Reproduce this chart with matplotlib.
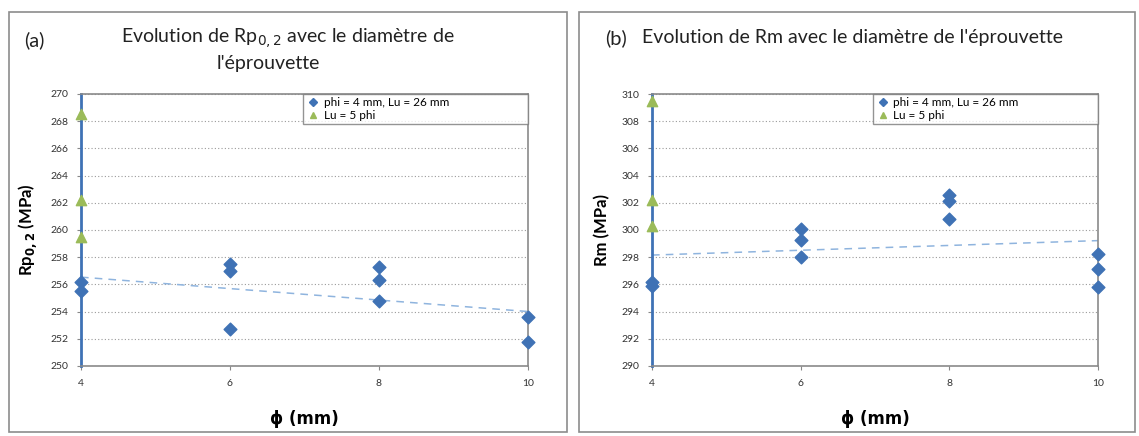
import numpy as np
import matplotlib
matplotlib.use("Agg")
import matplotlib.pyplot as plt
from matplotlib.patches import Rectangle
from matplotlib.lines import Line2D

plt.rcParams['font.family'] = ['Lato', 'DejaVu Sans']

# Panel (a): Rp0.2
rp_x_blue = [4, 4, 6, 6, 6, 8, 8, 8, 10, 10]
rp_y_blue = [256.2, 255.5, 257.5, 257.0, 252.7, 257.3, 256.3, 254.8, 253.6, 251.8]
rp_x_green = [4, 4, 4]
rp_y_green = [268.5, 262.2, 259.5]

# Panel (b): Rm
rm_x_blue = [4, 4, 6, 6, 6, 8, 8, 8, 10, 10, 10]
rm_y_blue = [296.2, 295.9, 300.1, 299.3, 298.0, 302.6, 302.1, 300.8, 298.2, 297.1, 295.8]
rm_x_green = [4, 4, 4]
rm_y_green = [309.5, 302.2, 300.3]

x_ticks = [4, 6, 8, 10]
legend_labels = ["phi = 4 mm, Lu = 26 mm", "Lu = 5 phi"]

BLUE = '#3f72b5'
GREEN = '#9bbb59'
TREND = '#8fb4de'

W, H = 1139, 436
fig = plt.figure(figsize=(W / 100, H / 100), dpi=100)

# panel frames
for x0, x1 in [(9, 567), (579, 1135)]:
    fig.patches.append(Rectangle((x0 / W, 1 - 432 / H), (x1 - x0) / W, (432 - 12) / H,
                                 transform=fig.transFigure, fill=False,
                                 edgecolor='#8c8c8c', linewidth=1.2))


def setup(ax, xb, yb, xg, yg, ylim, ylabel, leg_box):
    ax.set_xlim(4, 10)
    ax.set_ylim(*ylim)
    ax.set_xticks(x_ticks)
    ax.set_yticks(np.arange(ylim[0], ylim[1] + 1, 2))
    ax.tick_params(labelsize=7.5, length=3, color='#888888', labelcolor='#333333', pad=6)
    ax.yaxis.grid(True, color='#9a9a9a', linestyle=(0, (1, 2)), linewidth=0.8)
    ax.set_axisbelow(True)
    for s in ['top', 'right', 'bottom']:
        ax.spines[s].set_color('#8a8a8a')
        ax.spines[s].set_linewidth(1.2)
    ax.spines['left'].set_color(BLUE)
    ax.spines['left'].set_linewidth(2)
    # trend line
    p = np.polyfit(xb, yb, 1)
    xx = np.array([4, 10])
    ax.plot(xx, np.polyval(p, xx), linestyle=(0, (5, 4)), color=TREND, linewidth=1.1, zorder=2)
    ax.scatter(xb, yb, marker='D', s=42, color=BLUE, zorder=4, clip_on=False)
    ax.scatter(xg, yg, marker='^', s=55, color=GREEN, zorder=4, clip_on=False)
    ax.set_ylabel(ylabel, fontsize=12, fontweight='bold', labelpad=8)
    ax.set_xlabel('ϕ (mm)', fontsize=12, fontweight='bold', labelpad=16,
                  family=['DejaVu Sans'])
    handles = [Line2D([], [], marker='D', color=BLUE, linestyle='none', markersize=4),
               Line2D([], [], marker='^', color=GREEN, linestyle='none', markersize=4)]
    leg = ax.legend(handles, legend_labels, loc='upper left', fontsize=8.5,
                    frameon=True, fancybox=False, edgecolor='#7a7a7a',
                    borderaxespad=0, handletextpad=0.3, handlelength=1.2,
                    labelspacing=0.15, borderpad=0.25, mode='expand',
                    bbox_to_anchor=leg_box)
    leg.get_frame().set_linewidth(1.0)


ax1 = fig.add_axes([81 / W, 1 - 366 / H, (528 - 81) / W, (366 - 94) / H])
setup(ax1, rp_x_blue, rp_y_blue, rp_x_green, rp_y_green, (250, 270),
      'Rp$_{\\mathbf{0,2}}$ (MPa)', (0.497, 0.86, 0.503, 0.14))
ax2 = fig.add_axes([652 / W, 1 - 366 / H, (1098 - 652) / W, (366 - 94) / H])
setup(ax2, rm_x_blue, rm_y_blue, rm_x_green, rm_y_green, (290, 310),
      'Rm (MPa)', (0.495, 0.85, 0.505, 0.15))

fig.text(24 / W, 1 - 40 / H, '(a)', fontsize=14.5, va='center', ha='left', color='#222222')
fig.text(288 / W, 1 - 38 / H, "Evolution de Rp$_{0,2}$ avec le diamètre de", fontsize=14,
         va='center', ha='center', color='#222222')
fig.text(268 / W, 1 - 63 / H, "l'éprouvette", fontsize=14, va='center', ha='center', color='#222222')
fig.text(605 / W, 1 - 38 / H, '(b)', fontsize=14.5, va='center', ha='left', color='#222222')
fig.text(642 / W, 1 - 37 / H, "Evolution de Rm avec le diamètre de l'éprouvette", fontsize=14,
         va='center', ha='left', color='#222222')

fig.savefig('out.png', dpi=100)
